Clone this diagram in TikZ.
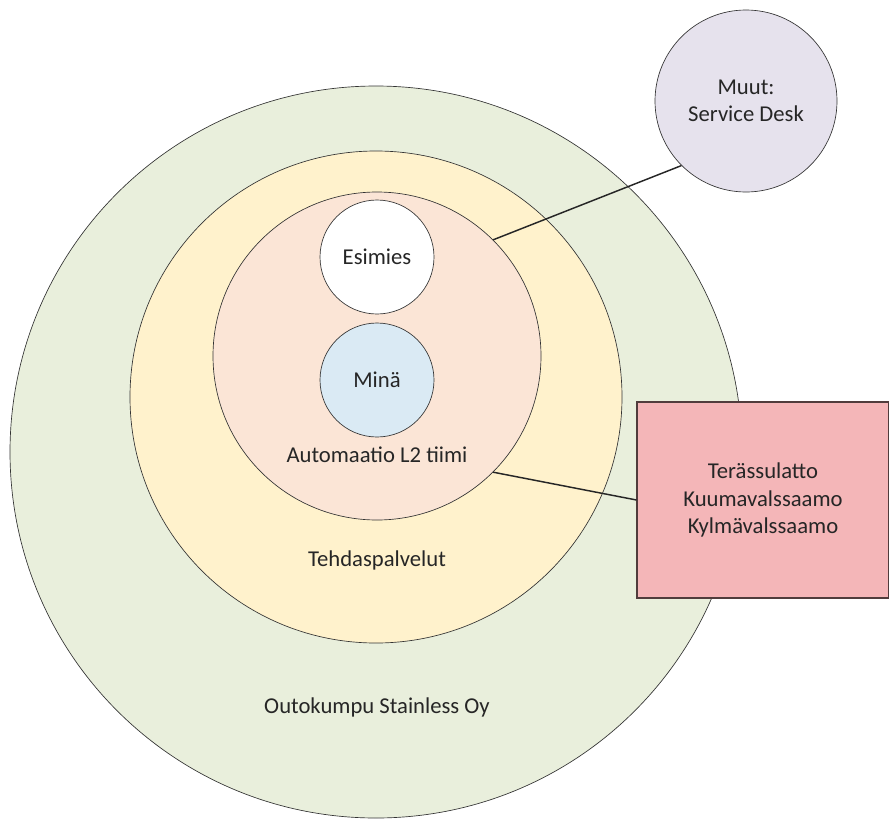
\documentclass[tikz,border=0pt]{standalone}
\usepackage{fontspec}
\setmainfont{Carlito}
\definecolor{orgfill}{RGB}{233,239,220}
\definecolor{factfill}{RGB}{255,242,204}
\definecolor{teamfill}{RGB}{251,229,214}
\definecolor{mefill}{RGB}{218,234,244}
\definecolor{otherfill}{RGB}{230,226,237}
\definecolor{millfill}{RGB}{244,182,184}
\definecolor{millline}{RGB}{80,60,60}

\begin{document}
\begin{tikzpicture}[x=0.75pt, y=-0.75pt,
                    ring/.style={circle, draw=black!80, line width=0.5pt, inner sep=0pt},
                    lbl/.style={font=\fontsize{17}{20.5}\selectfont, text=black!85, align=center},
                    link/.style={draw=black!85, line width=1.1pt}]
  \useasboundingbox (0,0) rectangle (889,818);
  \node[ring, fill=orgfill, minimum size=549pt] (company) at (376,452) {};
  \node[ring, fill=factfill, minimum size=369pt] (factory) at (376,397) {};
  \node[ring, fill=teamfill, minimum size=246pt] (team) at (377,356) {};
  \node[ring, lbl, fill=white, minimum size=85.5pt] (boss) at (377,257) {Esimies};
  \node[ring, lbl, fill=mefill, minimum size=85.5pt] (me) at (377,380) {Minä};
  \node[ring, lbl, fill=otherfill, minimum size=136.5pt] (others) at (746,101) {Muut:\\Service Desk};
  \node[lbl, draw=millline, line width=0.8pt, fill=millfill, minimum width=189pt, minimum height=147pt] (mills) at (763,500)
    {Terässulatto\\Kuumavalssaamo\\Kylmävalssaamo};
  \node[lbl] (teamname) at (377,455) {Automaatio L2 tiimi};
  \node[lbl] (factoryname) at (377,560) {Tehdaspalvelut};
  \node[lbl] (companyname) at (377,707) {Outokumpu Stainless Oy};
  \draw[link] (team.45) -- (others.225);
  \draw[link] (team.-45) -- (mills.west);
\end{tikzpicture}
\end{document}
